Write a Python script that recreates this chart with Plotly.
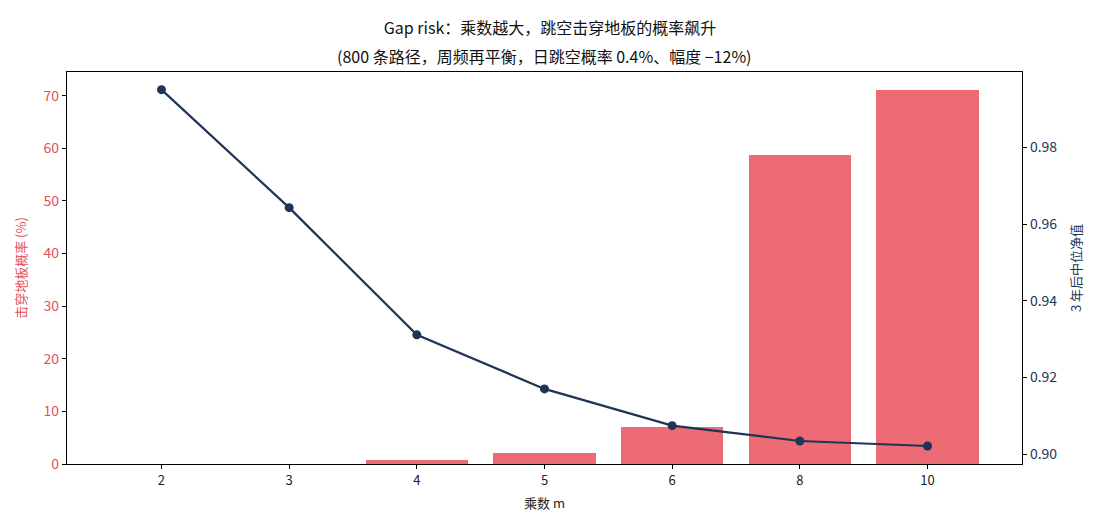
import plotly.graph_objects as go

categories = ["2", "3", "4", "5", "6", "8", "10"]
breach_pct = [0.0, 0.0, 0.8, 2.0, 7.1, 58.8, 71.0]
median_nav = [0.9951, 0.9643, 0.9311, 0.9170, 0.9074, 0.9034, 0.9021]

title_line1 = "Gap risk：乘数越大，跳空击穿地板的概率飙升"
title_line2 = "(800 条路径，周频再平衡，日跳空概率 0.4%、幅度 −12%)"

x_idx = list(range(len(categories)))
bar_color = "#ec6b75"
line_color = "#1f3557"
red_text = "#e5505a"
font_family = "Noto Sans CJK SC, Noto Sans, DejaVu Sans, sans-serif"

fig = go.Figure()
fig.add_trace(go.Bar(x=x_idx, y=breach_pct, width=0.8, marker=dict(color=bar_color, line=dict(width=0)),
                     yaxis="y", showlegend=False))
fig.add_trace(go.Scatter(x=x_idx, y=median_nav, mode="lines+markers", yaxis="y2",
                         line=dict(color=line_color, width=2.2),
                         marker=dict(color=line_color, size=9), showlegend=False))

fig.update_layout(
    width=1100, height=528,
    margin=dict(l=67, r=78, t=72, b=64),
    paper_bgcolor="white", plot_bgcolor="white",
    font=dict(family=font_family, size=13, color="#222222"),
    title=dict(text=title_line1, x=0.5, xanchor="center",
               y=1 - 28 / 528, yanchor="middle", yref="container",
               font=dict(size=16, color="#111111")),
    annotations=[dict(text=title_line2, xref="paper", yref="paper", x=0.5,
                      y=1 + (72 - 56) / 392, xanchor="center", yanchor="middle",
                      showarrow=False, font=dict(size=16, color="#111111"))],
    xaxis=dict(range=[-0.74, 6.74], tickmode="array", tickvals=x_idx, ticktext=categories,
               showgrid=False, zeroline=False, showline=True, linecolor="black", linewidth=1.2,
               mirror=True, ticks="outside", ticklen=4, tickcolor="black",
               title=dict(text="乘数 m", font=dict(size=13), standoff=11)),
    yaxis=dict(range=[0, 74.5], tickvals=[0, 10, 20, 30, 40, 50, 60, 70],
               showgrid=False, zeroline=False, showline=True, linecolor="black", linewidth=1.2,
               ticks="outside", ticklen=4, tickcolor="black",
               tickfont=dict(color=red_text, size=14),
               title=dict(text="击穿地板概率 (%)", font=dict(color=red_text, size=13), standoff=14)),
    yaxis2=dict(range=[0.8974, 0.9997], overlaying="y", side="right",
                tickvals=[0.90, 0.92, 0.94, 0.96, 0.98], tickformat=".2f",
                showgrid=False, zeroline=False, showline=True, linecolor="black", linewidth=1.2,
                ticks="outside", ticklen=4, tickcolor="black",
                tickfont=dict(color=line_color, size=14),
                title=dict(text="3 年后中位净值", font=dict(color=line_color, size=13), standoff=15)),
    bargap=0,
)

fig.write_html("out.html")
